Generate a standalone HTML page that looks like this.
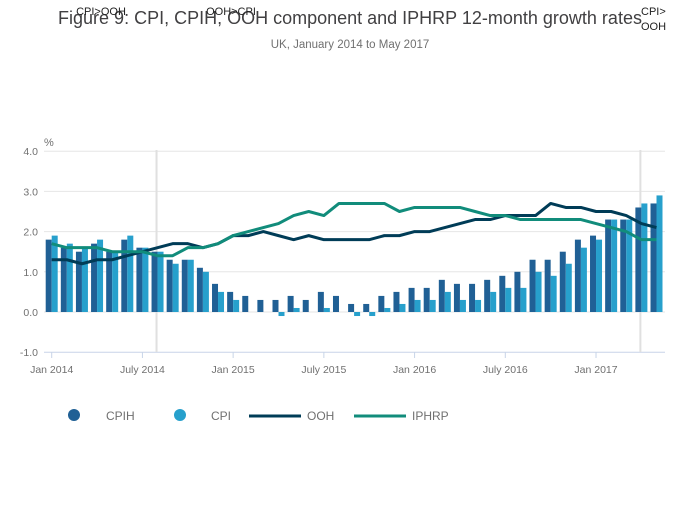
<!DOCTYPE html>
<html><head><meta charset="utf-8"><style>
body{margin:0;background:#fff;font-family:"Liberation Sans",sans-serif}
svg text{font-family:"Liberation Sans",sans-serif}
</style></head><body>
<svg id="c" width="700" height="502" xmlns="http://www.w3.org/2000/svg"></svg>
<script>
const months = 41;
const cpih = [1.8,1.6,1.5,1.7,1.5,1.8,1.6,1.5,1.3,1.3,1.1,0.7, 0.5,0.4,0.3,0.3,0.4,0.3,0.5,0.4,0.2,0.2,0.4,0.5, 0.6,0.6,0.8,0.7,0.7,0.8,0.9,1.0,1.3,1.3,1.5,1.8, 1.9,2.3,2.3,2.6,2.7];
const cpi = [1.9,1.7,1.6,1.8,1.5,1.9,1.6,1.5,1.2,1.3,1.0,0.5, 0.3,0.0,0.0,-0.1,0.1,0.0,0.1,0.0,-0.1,-0.1,0.1,0.2, 0.3,0.3,0.5,0.3,0.3,0.5,0.6,0.6,1.0,0.9,1.2,1.6, 1.8,2.3,2.3,2.7,2.9];
const ooh = [1.3,1.3,1.2,1.3,1.3,1.4,1.5,1.6,1.7,1.7,1.6,1.7, 1.9,1.9,2.0,1.9,1.8,1.9,1.8,1.8,1.8,1.8,1.9,1.9, 2.0,2.0,2.1,2.2,2.3,2.3,2.4,2.4,2.4,2.7,2.6,2.6, 2.5,2.5,2.4,2.2,2.1];
const iphrp = [1.7,1.6,1.6,1.6,1.5,1.5,1.5,1.4,1.4,1.6,1.6,1.7, 1.9,2.0,2.1,2.2,2.4,2.5,2.4,2.7,2.7,2.7,2.7,2.5, 2.6,2.6,2.6,2.6,2.5,2.4,2.4,2.3,2.3,2.3,2.3,2.3, 2.2,2.1,2.0,1.8,1.8];
const yTicks = [4,3,2,1,0,-1];
const yTickLabels = ["4.0","3.0","2.0","1.0","0.0","-1.0"];
const xTickIdx = [0,6,12,18,24,30,36];
const xTickLabels = ["Jan 2014","July 2014","Jan 2015","July 2015","Jan 2016","July 2016","Jan 2017"];

const svg=document.getElementById('c');
const NS='http://www.w3.org/2000/svg';
function X(i){return 51.7+i*15.12;}
function Y(v){return 312-v*40.2;}
function mk(tag,attrs,parent){const e=document.createElementNS(NS,tag);for(const k in attrs)e.setAttribute(k,attrs[k]);(parent||svg).appendChild(e);return e;}
function txt(s,attrs){const t=mk('text',attrs);t.textContent=s;return t;}

let t;
t=txt("Figure 9: CPI, CPIH, OOH component and IPHRP 12-month growth rates",{x:350,y:24,'text-anchor':'middle','font-size':18,fill:'#414042'});


t=txt("UK, January 2014 to May 2017",{x:350,y:48,'text-anchor':'middle','font-size':11.5,fill:'#707070'});



yTicks.forEach((v,i)=>{
  const l=mk('line',{x1:44,x2:665,y1:Y(v),y2:Y(v),stroke:v===-1?'#c8d4e8':'#e6e6e6','stroke-width':1});
  
  
  const tl=txt(yTickLabels[i],{x:38,y:Y(v)+4,'text-anchor':'end','font-size':10.5,fill:'#707070'});
  
  
});
t=txt("%",{x:44,y:146,'font-size':11,fill:'#707070'});


xTickIdx.forEach((m,i)=>{
  const l=mk('line',{x1:X(m),x2:X(m),y1:352,y2:358,stroke:'#c8d4e8'});
  
  
  const tl=txt(xTickLabels[i],{x:X(m),y:373,'text-anchor':'middle','font-size':10.5,fill:'#707070'});
  
  
});
[7,39].forEach(m=>{
  const l=mk('line',{x1:X(m)-1,x2:X(m)-1,y1:150,y2:352,stroke:'#e0e0e0','stroke-width':2});
  
  
});
t=txt("CPI>OOH",{x:101,y:15,'text-anchor':'middle','font-size':11,fill:'#222'});


t=txt("OOH>CPI",{x:231,y:15,'text-anchor':'middle','font-size':11,fill:'#222'});


t=txt("CPI>",{x:641,y:15,'font-size':11,fill:'#222'});


t=txt("OOH",{x:641,y:30,'font-size':11,fill:'#222'});



for(let i=0;i<months;i++){
  const x=X(i);
  const v1=cpih[i], v2=cpi[i];
  const b1=mk('rect',{x:x-6,y:Math.min(Y(v1),Y(0)),width:6,height:Math.abs(Y(v1)-Y(0)),fill:'#206095'});
  
  
  const b2=mk('rect',{x:x,y:Math.min(Y(v2),Y(0)),width:6,height:Math.abs(Y(v2)-Y(0)),fill:'#27a0cc'});
  
  
}
function line(arr,col,name){
  const p=mk('polyline',{points:arr.map((v,i)=>X(i)+','+Y(v)).join(' '),fill:'none',stroke:col,'stroke-width':3,'stroke-linejoin':'round'});
  
  
}
line(ooh,'#003c57','line-ooh');
line(iphrp,'#118c7b','line-iphrp');

let e;
e=mk('circle',{cx:74,cy:415,r:6,fill:'#206095'});


e=txt("CPIH",{x:106,y:420,'font-size':12,fill:'#707070'});


e=mk('circle',{cx:180,cy:415,r:6,fill:'#27a0cc'});


e=txt("CPI",{x:211,y:420,'font-size':12,fill:'#707070'});


e=mk('line',{x1:249,x2:301,y1:416,y2:416,stroke:'#003c57','stroke-width':3});


e=txt("OOH",{x:307,y:420,'font-size':12,fill:'#707070'});


e=mk('line',{x1:354,x2:406,y1:416,y2:416,stroke:'#118c7b','stroke-width':3});


e=txt("IPHRP",{x:412,y:420,'font-size':12,fill:'#707070'});


</script>
</body></html>
